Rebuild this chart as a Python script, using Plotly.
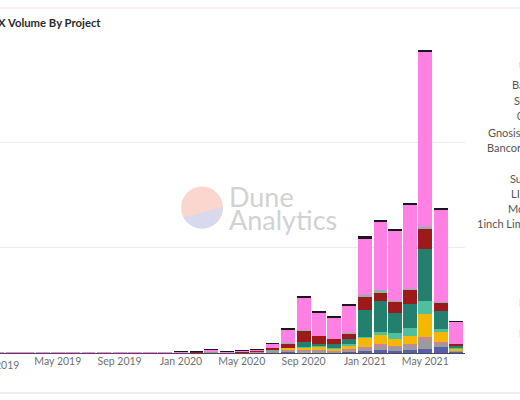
import math
import pandas as pd
import plotly.graph_objects as go

months = pd.date_range("2019-01-01", "2021-07-01", freq="MS")

# values in billions USD, stacked bottom -> top
indigo = [0.1]*12 + [0.1,0.1,0.15,0.1,0.1,0.15,0.2,0.3,0.4,0.3,0.3,0.7] + [1.0,1.3,1.0,1.3,2.1,2.9,0.6]
grey   = [0.04]*12 + [0.15,0.2,0.4,0.1,0.15,0.2,0.4,1.0,0.6,0.8,0.5,0.6] + [1.1,2.0,1.9,2.4,4.3,1.6,0.4]
mauve  = [0.02]*12 + [0.05,0.05,0.1,0.05,0.1,0.3,0.4,0.6,0.3,0.3,0.2,0.4] + [0.8,0.8,0.5,0.5,1.2,0.8,0.2]
yellow = [0.02]*12 + [0.05,0.05,0.1,0.05,0.05,0.1,0.2,0.5,1.1,1.6,1.1,2.0] + [4.3,4.3,3.5,4.0,11.1,4.5,0.8]
ltteal = [0.0]*12 + [0.02,0.02,0.03,0.02,0.03,0.05,0.1,0.2,0.3,0.3,0.3,0.4] + [0.5,1.6,2.7,3.5,5.9,1.4,0.3]
dkteal = [0.0]*12 + [0,0,0,0,0,0,0,0,2.4,1.0,2.0,2.7] + [12.7,14.6,9.5,11.6,25.1,8.7,1.1]
dkred  = [0.0]*12 + [0.05,0.1,0.15,0.1,0.15,0.3,1.1,1.9,5.6,3.8,2.4,2.7] + [6.3,4.4,5.3,6.8,9.5,4.2,1.0]
band   = [0.0]*12 + [0,0,0,0,0,0,0,0.05,0.1,0.1,0.1,0.1] + [1.1,0.8,0.5,0.4,0.8,0.3,0.05]
pink   = [0.05,0.05,0.06,0.06,0.08,0.1,0.1,0.12,0.1,0.08,0.08,0.1] + [0.3,0.4,0.5,0.3,0.4,0.6,2.0,6.8,15.4,11.1,10.0,13.0] + [26.3,32.4,33.5,40.0,83.2,43.7,10.6]
cap    = [0.0]*12 + [0.02,0.02,0.02,0.02,0.02,0.05,0.1,0.4,0.6,0.6,0.6,0.6] + [1.6,1.3,0.8,0.8,1.1,0.5,0.1]

series = [
    ("Kyber", indigo, "#5a5ea8"),
    ("Bancor Network", grey, "#9b9b9b"),
    ("DODO", mauve, "#c7869c"),
    ("0x Native", yellow, "#f5b800"),
    ("Balancer", ltteal, "#4fbf9f"),
    ("Sushiswap", dkteal, "#23806f"),
    ("Curve", dkred, "#9e1a1a"),
    ("Mooniswap", band, "#86b9a6"),
    ("Uniswap", pink, "#fd80e2"),
    ("1inch Limit Order Protocol", cap, "#1e1420"),
]

legend_items = [
    (517, 65, "Uniswap"),
    (510, 85, "Balancer"),
    (512, 100, "Swerve"),
    (515, 116, "0x Native"),
    (486, 132, "Gnosis Protocol"),
    (485, 147, "Bancor Network"),
    (508, 178, "Sushiswap"),
    (509, 193, "LINKSWAP"),
    (506, 208, "Mooniswap"),
    (475, 224, "1inch Limit Order Protocol"),
    (517, 302, "DODO"),
    (517, 332, "Kyber"),
]

FONT = "Lato"
W, H = 520, 400
L, R, T, B = 0, 55, 42, 47
PW, PH = W - L - R, H - T - B

def px(x):
    return (x - L) / PW

def py(y):
    return (H - B - y) / PH

fig = go.Figure()
bar_w = 27.5 * 86400000
for name, vals, col in series:
    fig.add_trace(go.Bar(x=months, y=vals, name=name, marker_color=col,
                         marker_line_width=0, width=bar_w))

ann = []
ann.append(dict(text="<b>DEX Volume By Project</b>", xref="paper", yref="paper",
                x=px(103), y=py(23), xanchor="right", yanchor="middle",
                showarrow=False, font=dict(size=11.3, color="#2b2b2b", family=FONT)))
ann.append(dict(text="Jan 2019", xref="paper", yref="paper", x=px(-2), y=0,
                xanchor="center", yanchor="top", yshift=-4, showarrow=False,
                font=dict(size=10.5, color="#707070", family=FONT)))
for x, y, t in legend_items:
    ann.append(dict(text=t, xref="paper", yref="paper", x=px(x), y=py(y),
                    xanchor="left", yanchor="middle", showarrow=False,
                    font=dict(size=11, color="#555555", family=FONT)))
ann.append(dict(text="Dune", xref="paper", yref="paper", x=px(227), y=py(196),
                xanchor="left", yanchor="middle", showarrow=False,
                font=dict(size=27, color="#d2d2d2", family=FONT)))
ann.append(dict(text="Analytics", xref="paper", yref="paper", x=px(227), y=py(219),
                xanchor="left", yanchor="middle", showarrow=False,
                font=dict(size=27, color="#d2d2d2", family=FONT)))

# watermark logo: circle with lower segment in lavender
cx, cy = px(202), py(207.5)
rad = 21
a0 = math.atan2(-10, -18.5)
a1 = math.atan2(0.5, 20.8)
pts = []
n = 40
start, end = a1, a0
if end > start:
    end -= 2 * math.pi
for i in range(n + 1):
    a = start + (end - start) * i / n
    pts.append((rad * math.cos(a), rad * math.sin(a)))
path = "M " + " L ".join(f"{x:.2f},{y:.2f}" for x, y in pts) + " Z"

shapes = [
    dict(type="circle", xref="paper", yref="paper", xsizemode="pixel", ysizemode="pixel",
         xanchor=cx, yanchor=cy, x0=-rad, x1=rad, y0=-rad, y1=rad,
         fillcolor="#fad6cf", line_width=0, layer="below"),
    dict(type="path", xref="paper", yref="paper", xsizemode="pixel", ysizemode="pixel",
         xanchor=cx, yanchor=cy, path=path,
         fillcolor="#d9d9ee", line_width=0, layer="below"),
    dict(type="line", xref="paper", yref="paper", x0=-0.1, x1=1.3, y0=py(8), y1=py(8),
         line=dict(color="#f6e4e4", width=1.5)),
    dict(type="line", xref="paper", yref="paper", x0=-0.1, x1=1.3, y0=py(393), y1=py(393),
         line=dict(color="#efe6e6", width=1.5)),
]

fig.update_layout(
    width=W, height=H, barmode="stack", showlegend=False,
    margin=dict(l=L, r=R, t=T, b=B, autoexpand=False),
    paper_bgcolor="white", plot_bgcolor="white",
    annotations=ann, shapes=shapes,
    xaxis=dict(type="date", range=["2019-01-06", "2021-07-19"], tick0="2019-01-01",
               dtick="M4", tickformat="%b %Y", showgrid=False, automargin=False,
               tickfont=dict(size=10.5, color="#707070", family=FONT),
               showline=False, ticks=""),
    yaxis=dict(range=[0, 148], dtick=50, showticklabels=False, gridcolor="#ececec",
               gridwidth=1, zeroline=True, zerolinecolor="#4a4a5a", zerolinewidth=1,
               automargin=False),
)

fig.write_html("out.html", config={"displayModeBar": False},
               post_script="document.body.style.margin='0px';document.body.style.overflow='hidden';")
